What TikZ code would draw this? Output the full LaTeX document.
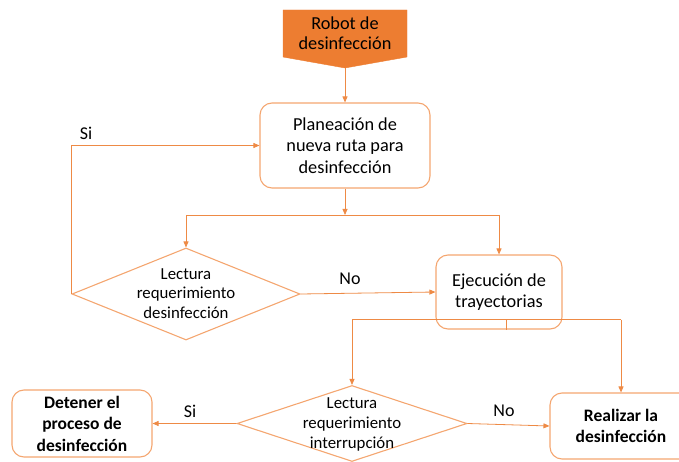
\documentclass[tikz,border=0pt]{standalone}
\usepackage{fontspec}
\setmainfont{Carlito}
\usetikzlibrary{shapes.geometric,arrows.meta}
\definecolor{lineor}{HTML}{EE8A45}
\definecolor{boxor}{HTML}{F4A670}
\definecolor{fillor}{HTML}{ED7D31}
\begin{document}
\begin{tikzpicture}[x=1pt,y=-1pt,
  box/.style={draw=boxor, line width=1.1pt, rounded corners=12pt, align=center,
    font=\fontsize{18.3}{21.7}\selectfont, inner sep=0pt},
  boldbox/.style={box, font=\fontsize{17.5}{21.5}\selectfont\bfseries},
  dia/.style={diamond, draw=boxor, line width=1.1pt, inner sep=0pt},
  txt/.style={align=center, font=\fontsize{16.8}{19.6}\selectfont, inner sep=0pt},
  robotxt/.style={align=center, font=\fontsize{18.3}{20.5}\selectfont, inner sep=0pt},
  arr/.style={draw=lineor, line width=0.8pt, -{Triangle[length=6pt,width=5pt]}},
  ln/.style={draw=lineor, line width=0.8pt},
  lab/.style={font=\fontsize{18}{20}\selectfont, inner sep=0pt}]
\clip (0,0) rectangle (679,462);
\useasboundingbox (0,0) rectangle (679,462);
% Robot
\draw[fill=fillor, draw=fillor] (283,10) -- (407,10) -- (407,57) -- (345,68) -- (283,57) -- cycle;
\node[robotxt] (robot) at (345,33) {Robot de\\desinfección};
\coordinate (robottip) at (345,68);
% Nodes
\node[box, minimum width=170pt, minimum height=85pt] (plan) at (345,145.5) {Planeación de\\nueva ruta para\\desinfección};
\node[dia, minimum width=228pt, minimum height=92pt] (d1) at (186,294) {};
\node[txt] (d1t) at (186,293.5) {Lectura\\requerimiento\\desinfección};
\node[box, minimum width=126pt, minimum height=74pt] (ejec) at (499,292) {Ejecución de\\trayectorias};
\node[dia, minimum width=230pt, minimum height=76pt] (d2) at (352,423.5) {};
\node[txt] (d2t) at (352,424.5) {Lectura\\requerimiento\\interrupción};
\node[boldbox, minimum width=140pt, minimum height=67pt] (det) at (82,423.5) {Detener el\\proceso de\\desinfección};
\node[boldbox, minimum width=142pt, minimum height=66pt] (real) at (621,426) {Realizar la\\desinfección};
% Connectors
\draw[arr] (robottip) -- (plan.north);
\coordinate (s1) at (345,215);
\draw[arr] (plan.south) -- (s1);
\draw[ln] (d1.north |- s1) -- (ejec.north |- s1);
\draw[arr] (d1.north |- s1) -- (d1.north);
\draw[arr] (ejec.north |- s1) -- (ejec.north);
\draw[arr] (d1.west) |- (plan.west);
\node[lab] (si1) at (86,133) {Si};
\draw[arr] (d1.east) -- (ejec.west);
\node[lab] (no1) at (350,279) {No};
\coordinate (e0) at ([xshift=7pt]ejec.south);
\coordinate (s2) at ([yshift=10pt]e0);
\draw[ln] (e0) -- (s2);
\draw[ln] (d2.north |- s2) -- (real.north |- s2);
\draw[arr] (d2.north |- s2) -- (d2.north);
\draw[arr] (real.north |- s2) -- (real.north);
\draw[arr] (d2.west) -- (det.east);
\node[lab] (si2) at (190,411) {Si};
\draw[arr] (d2.east) -- (real.west);
\node[lab] (no2) at (504,411) {No};
\end{tikzpicture}
\end{document}
